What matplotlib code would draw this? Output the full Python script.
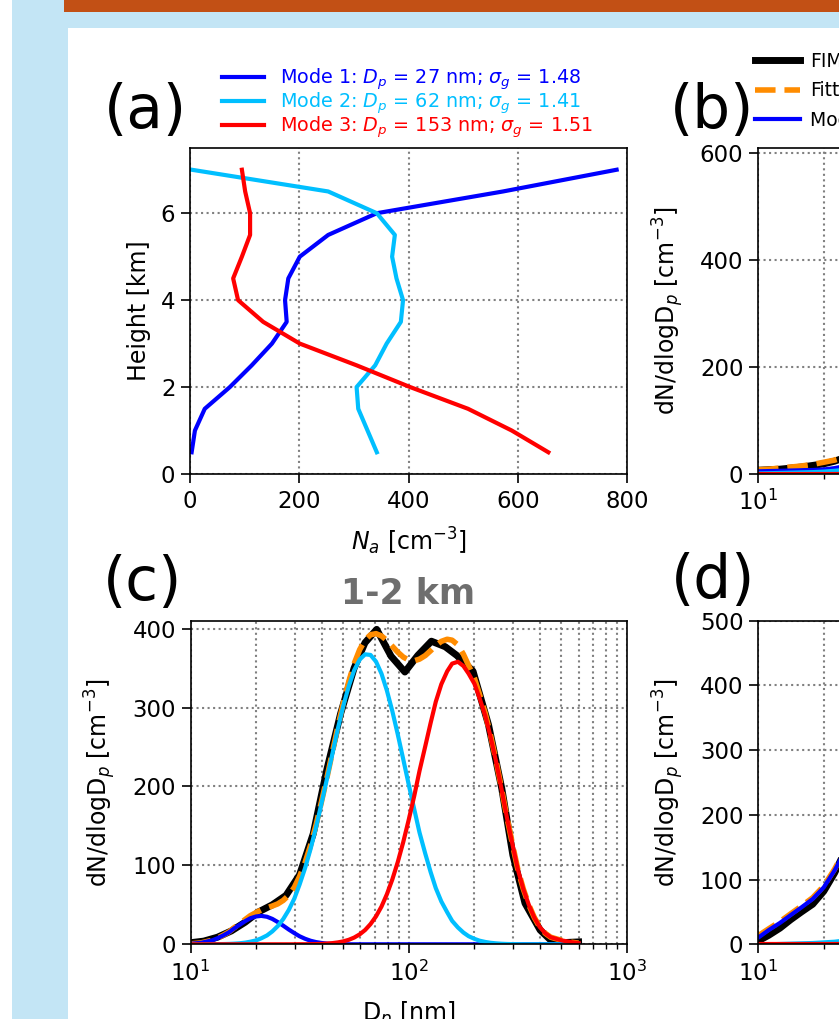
import matplotlib
matplotlib.use("Agg")
import matplotlib.pyplot as plt
from matplotlib.patches import Rectangle
from matplotlib.ticker import LogLocator, NullFormatter

# ---------------- data ----------------
# panel (a): vertical profiles of mode number concentration
height_km = [0.5, 1.0, 1.5, 2.0, 2.5, 3.0, 3.5, 4.0, 4.5, 5.0, 5.5, 6.0, 6.5, 7.0]
mode1_na = [3, 9, 27, 73, 113, 150, 177, 174, 180, 201, 253, 342, 573, 781]
mode2_na = [342, 325, 308, 305, 339, 360, 386, 390, 378, 370, 375, 342, 253, 3]
mode3_na = [656, 589, 509, 403, 305, 201, 134, 88, 79, 95, 110, 110, 101, 95]
legend_a = ["Mode 1: $D_p$ = 27 nm; $\\sigma_g$ = 1.48",
            "Mode 2: $D_p$ = 62 nm; $\\sigma_g$ = 1.41",
            "Mode 3: $D_p$ = 153 nm; $\\sigma_g$ = 1.51"]

# panel (c): 1-2 km size distribution
fims_dp_c = [10, 11.5, 13.3, 15.4, 17.8, 20.5, 23.7, 27.4, 31.6, 36.5, 42.2, 48.7,
             56.2, 63, 71.3, 83, 96, 110, 127, 147, 166, 197, 232, 267, 300, 341,
             400, 452, 500, 600]
fims_c = [2, 4, 9, 17, 28, 41, 50, 62, 88, 140, 222, 292,
          350, 382, 399, 365, 345, 366, 384, 377, 366, 346, 278, 197, 113, 52,
          18, 4, 2, 3]
dp_c = [10.0, 11.2, 12.6, 13.3, 14.1, 15.0, 15.8, 16.8, 17.8, 18.8, 20.0, 21.1,
        22.4, 23.7, 25.1, 26.6, 28.2, 29.9, 31.6, 33.5, 35.5, 37.6, 39.8, 42.2,
        44.7, 47.3, 50.1, 53.1, 56.2, 59.6, 63.1, 66.8, 70.8, 75.0, 79.4, 84.1,
        89.1, 94.4, 100, 106, 112, 119, 126, 133, 141, 150, 158, 168, 178, 188,
        200, 211, 224, 237, 251, 266, 282, 299, 316, 335, 355, 376, 398, 422,
        447, 501, 562, 600]
fit_c = [0.6, 1.9, 5.2, 7.9, 11.4, 15.7, 20.7, 26.0, 31.4, 36.3, 40.3, 43.6,
         46.1, 48.5, 51.2, 55.6, 62.2, 72.1, 85.9, 103.7, 125.6, 151.4, 180.4,
         211.4, 243.6, 275.5, 305.6, 332.7, 355.5, 373.4, 385.5, 392.2, 393.6,
         390.7, 384.9, 377.6, 370.1, 363.9, 360.1, 359.2, 361.3, 365.8, 372.0,
         378.5, 383.8, 386.5, 385.3, 379.3, 367.5, 353.3, 336.9, 316.6, 293.0,
         264.9, 233.2, 197.7, 160.4, 126.2, 95.1, 70, 50, 34, 22, 14, 9, 5, 2.5,
         1.5]
m1_c = [0.6, 1.9, 5.1, 7.7, 11.1, 15.2, 19.9, 24.7, 29.3, 33.0, 35.3, 36.0,
        34.9, 32.2, 28.2, 23.6, 18.7, 14.2, 10.2, 7.0, 4.5, 2.8, 1.7, 0.9, 0.5,
        0.3, 0.1] + [0] * 41
m2_c = [0, 0, 0.1, 0.2, 0.3, 0.5, 0.8, 1.3, 2.1, 3.3, 5.0, 7.6, 11.2, 16.3,
        23.0, 32.0, 43.5, 57.9, 75.6, 96.6, 120.9, 148.3, 178.2, 209.6, 241.6,
        272.8, 301.8, 327.0, 347.0, 360.8, 367.4, 366.6, 358.2, 342.9, 321.5,
        295.4, 265.7, 234.2, 202.2, 171.0, 141.7, 115.0, 91.4, 71.2, 54.3, 40.6,
        29.7, 21.3, 14.9, 10.3, 6.9, 4.6, 3.0, 1.9, 1.2, 0.7, 0.4, 0.2, 0.1] + [0] * 9
m3_c = [0] * 18 + [0.1, 0.1, 0.2, 0.3, 0.5, 0.9, 1.5, 2.4, 3.7, 5.7, 8.5, 12.6,
                   18.1, 25.6, 35.4, 47.8, 63.4, 82.2, 104.4, 129.7, 157.9, 188.2,
                   219.6, 250.8, 280.6, 307.3, 329.5, 345.9, 355.6, 358, 352.6,
                   343, 330, 312, 290, 263, 232, 197, 160, 126, 95, 70, 50, 34,
                   22, 14, 9, 5, 2.5, 1.5]

# panels (b) and (d): only the smallest sizes are visible
dp_bd = [10.0, 11.2, 12.6, 14.1, 15.8, 17.8, 20.0, 22.4, 25.1]
fims_b = [7, 8, 9, 11, 13, 16, 19, 24, 31]
fit_b = [8, 9, 11, 13, 15, 18, 22, 26, 32]
m1_b = [5, 5.5, 6, 6.5, 7, 7.5, 8.5, 11, 15]
m2_b = [1, 1.5, 2, 2.5, 3, 3.5, 4.5, 6, 8]
m3_b = [0.5, 0.5, 0.5, 0.5, 0.5, 0.5, 0.5, 0.5, 0.5]
fims_d = [5, 14, 25, 38, 50, 62, 82, 110, 145]
fit_d = [13, 24, 35, 47, 59, 72, 90, 116, 147]
m1_d = [10, 22, 33, 45, 57, 70, 88, 114, 145]
m2_d = [0, 0, 0.5, 1, 1.5, 2, 3, 4, 6]
m3_d = [0.5, 0.5, 0.5, 0.5, 0.5, 0.5, 0.5, 0.5, 0.5]

# ---------------- style ----------------
C_M1, C_M2, C_M3 = "#0000ff", "#00bfff", "#ff0000"
C_FIT = "#ff8c00"

plt.rcParams.update({
    "font.family": ["DejaVu Sans"],
    "font.size": 16,
    "axes.linewidth": 1.2,
    "xtick.major.size": 6.5, "ytick.major.size": 6.5,
    "xtick.major.width": 1.2, "ytick.major.width": 1.2,
    "xtick.minor.size": 3.5, "xtick.minor.width": 1.0,
    "xtick.major.pad": 5.0, "ytick.major.pad": 4.0,
    "xtick.labelsize": 16.5, "ytick.labelsize": 16.5,
    "axes.labelsize": 17,
})

W, H = 839, 1019
DPI = 100
fig = plt.figure(figsize=(W / DPI, H / DPI), dpi=DPI, facecolor="white")


def px_rect(x0, y0, x1, y1, color):
    fig.patches.append(Rectangle((x0 / W, 1 - y1 / H), (x1 - x0) / W, (y1 - y0) / H,
                                 transform=fig.transFigure, facecolor=color,
                                 edgecolor="none", zorder=-10))


px_rect(12, 0, W, H, "#c3e5f5")
px_rect(64, 0, W, 12, "#c25015")
px_rect(68, 28, W, H, "white")


def px_axes(left, top, right, bottom):
    return fig.add_axes([left / W, 1 - bottom / H, (right - left) / W, (bottom - top) / H])


GRID = dict(ls=":", color="#808080", lw=1.5)

# ---------------- panel (a) ----------------
axa = px_axes(190, 148, 627, 474)
la1, = axa.plot(mode1_na, height_km, color=C_M1, lw=3, label=legend_a[0])
la2, = axa.plot(mode2_na, height_km, color=C_M2, lw=3, label=legend_a[1])
la3, = axa.plot(mode3_na, height_km, color=C_M3, lw=3, label=legend_a[2])
axa.set_xlim(0, 800)
axa.set_ylim(0, 7.5)
axa.set_xticks([0, 200, 400, 600, 800])
axa.set_yticks([0, 2, 4, 6])
axa.grid(True, **GRID)
axa.set_xlabel("$N_a$ [cm$^{-3}$]", labelpad=9)
axa.set_ylabel("Height [km]", labelpad=7)
fig.legend(handles=[la1, la2, la3], loc="upper left",
           bbox_to_anchor=(222 / W, 1 - 67 / H), frameon=False,
           fontsize=13.8, labelcolor="linecolor", borderpad=0,
           handlelength=2.2, handletextpad=0.8, labelspacing=-0.1,
           borderaxespad=0)


def size_panel(ax, fims_dp, fims, dp, fit, m1, m2, m3, ymax, yticks):
    lf, = ax.plot(fims_dp, fims, color="black", lw=5, label="FIMS")
    lt, = ax.plot(dp, fit, color=C_FIT, lw=4, ls="--", label="Fitted")
    l1, = ax.plot(dp, m1, color=C_M1, lw=3, label="Mode 1")
    l2, = ax.plot(dp, m2, color=C_M2, lw=3, label="Mode 2")
    l3, = ax.plot(dp, m3, color=C_M3, lw=3, label="Mode 3")
    ax.set_xscale("log")
    ax.set_xlim(10, 1000)
    ax.set_ylim(0, ymax)
    ax.set_yticks(yticks)
    ax.xaxis.set_minor_locator(LogLocator(base=10, subs=range(2, 10)))
    ax.xaxis.set_minor_formatter(NullFormatter())
    ax.grid(True, which="major", **GRID)
    ax.grid(True, which="minor", axis="x", **GRID)
    ax.set_ylabel("dN/dlogD$_p$ [cm$^{-3}$]", labelpad=10)
    ax.set_xlabel("D$_p$ [nm]", labelpad=10)
    return [lf, lt, l1, l2, l3]


# ---------------- panel (b) ----------------
axb = px_axes(758, 148, 1195, 474)
hb = size_panel(axb, dp_bd, fims_b, dp_bd, fit_b, m1_b, m2_b, m3_b, 610, [0, 200, 400, 600])
fig.legend(handles=hb, loc="upper left", bbox_to_anchor=(755 / W, 1 - 52 / H),
           frameon=False, fontsize=13.5, ncol=2, borderpad=0, borderaxespad=0,
           handlelength=2.4, handletextpad=0.55, labelspacing=0.55)

# ---------------- panel (c) ----------------
axc = px_axes(190.5, 620.7, 627, 944.3)
size_panel(axc, fims_dp_c, fims_c, dp_c, fit_c, m1_c, m2_c, m3_c, 410, [0, 100, 200, 300, 400])
fig.text(408 / W, 1 - 594 / H, "1-2 km", ha="center", va="center",
         fontsize=25, fontweight="bold", color="#6e6e6e")

# ---------------- panel (d) ----------------
axd = px_axes(758, 620.7, 1195, 944.3)
size_panel(axd, dp_bd, fims_d, dp_bd, fit_d, m1_d, m2_d, m3_d, 500, [0, 100, 200, 300, 400, 500])

# panel letters
for txt, x, y in [("(a)", 145, 112), ("(b)", 712, 112), ("(c)", 143, 583), ("(d)", 713, 582)]:
    fig.text(x / W, 1 - y / H, txt, ha="center", va="center", fontsize=43)

fig.savefig("out.png", dpi=DPI, facecolor=fig.get_facecolor())
